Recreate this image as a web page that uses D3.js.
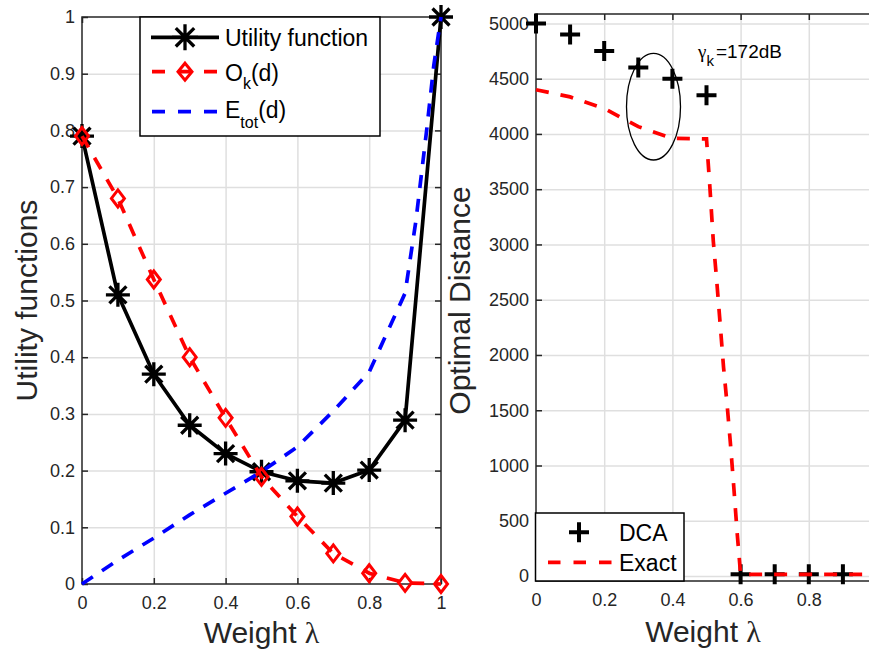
<!DOCTYPE html>
<html><head><meta charset="utf-8">
<script src="https://cdn.jsdelivr.net/npm/d3@7"></script>
<style>
body{margin:0;background:#fff}
svg{display:block}
text{font-family:"Liberation Sans",Arial,Helvetica,sans-serif}
</style>
</head><body>
<svg id="c" width="869" height="650"></svg>
<script>
// ---------- DATA ----------
const lambdaVals   = [0,0.1,0.2,0.3,0.4,0.5,0.6,0.7,0.8,0.9,1.0];
const utilityVals  = [0.79,0.51,0.37,0.28,0.23,0.198,0.182,0.178,0.201,0.289,1.0];
const okVals       = [0.79,0.68,0.537,0.40,0.293,0.189,0.119,0.054,0.019,0.002,0.0];
const etotLambda   = [0,0.1,0.2,0.3,0.4,0.5,0.6,0.7,0.8,0.9,0.93,0.96,0.98,1.0];
const etotVals     = [0,0.042,0.081,0.122,0.16,0.198,0.242,0.305,0.374,0.513,0.64,0.80,0.915,1.0];

const dcaLambda    = [0,0.1,0.2,0.3,0.4,0.5,0.6,0.7,0.8,0.9];
const dcaVals      = [5000,4900,4750,4600,4500,4350,15,15,15,15];
const exactLambda  = [0,0.1,0.2,0.3,0.4,0.5,0.51,0.52,0.53,0.54,0.55,0.56,0.57,0.58,0.59,0.6,0.7,0.8,0.9,1.0];
const exactVals    = [4400,4335,4230,4066,3960,3955,3515,3028,2670,2284,1888,1566,1205,806,387,15,15,15,15,15];

const leftXTicks   = [0,0.2,0.4,0.6,0.8,1];
const leftYTicks   = [0,0.1,0.2,0.3,0.4,0.5,0.6,0.7,0.8,0.9,1];
const rightXTicks  = [0,0.2,0.4,0.6,0.8];
const rightYTicks  = [0,500,1000,1500,2000,2500,3000,3500,4000,4500,5000];

const leftLegend   = ["Utility function","O_k(d)","E_tot(d)"];
const rightLegend  = ["DCA","Exact"];
const annotation   = {sym:"γ", sub:"k", rest:"=172dB"};

// ---------- SETUP ----------
const FONT = '"Liberation Sans",Arial,Helvetica,sans-serif';
const AX = "#262626", GRID = "#dfdfdf";
const svg = d3.select("#c");
svg.append("rect").attr("width",869).attr("height",650).attr("fill","#fff");

const L = {left:82, right:441, top:17, bottom:584};
const R = {left:536, right:877, top:14, bottom:581};
const xL = d3.scaleLinear().domain([0,1]).range([L.left,L.right]);
const yL = d3.scaleLinear().domain([0,1]).range([L.bottom,L.top]);
const xR = d3.scaleLinear().domain([0,1]).range([R.left,R.right]);
const yR = d3.scaleLinear().domain([-45,5085]).range([R.bottom,R.top]);

function drawGrid(xs, ys, xt, yt, b){
  const g = svg.append("g");
  g.append("g").attr("transform",`translate(0,${b.bottom})`)
    .call(d3.axisBottom(xs).tickValues(xt).tickSize(-(b.bottom-b.top)).tickFormat(""))
    .call(s=>{s.select(".domain").remove(); s.selectAll("line").attr("stroke",GRID).attr("stroke-width",1.5);});
  g.append("g").attr("transform",`translate(${b.left},0)`)
    .call(d3.axisLeft(ys).tickValues(yt).tickSize(-(b.right-b.left)).tickFormat(""))
    .call(s=>{s.select(".domain").remove(); s.selectAll("line").attr("stroke",GRID).attr("stroke-width",1.5);});
}
function drawAxes(xs, ys, xt, yt, b, xf, yf){
  const st = s=>{
    s.select(".domain").remove();
    s.attr("font-size",18).attr("font-family",FONT);
    s.selectAll("line").attr("stroke",AX).attr("stroke-width",1.5);
    s.selectAll("text").attr("fill",AX);
  };
  svg.append("g").attr("transform",`translate(0,${b.bottom})`)
    .call(d3.axisBottom(xs).tickValues(xt).tickSize(-6).tickPadding(12).tickFormat(xf)).call(st);
  svg.append("g").attr("transform",`translate(${b.left},0)`)
    .call(d3.axisLeft(ys).tickValues(yt).tickSize(-6).tickPadding(7).tickFormat(yf)).call(st);
  svg.append("g").attr("transform",`translate(0,${b.top})`)
    .call(d3.axisTop(xs).tickValues(xt).tickSize(-6).tickFormat("")).call(st);
  svg.append("g").attr("transform",`translate(${b.right},0)`)
    .call(d3.axisRight(ys).tickValues(yt).tickSize(-6).tickFormat("")).call(st);
  svg.append("rect").attr("x",b.left).attr("y",b.top).attr("width",b.right-b.left).attr("height",b.bottom-b.top)
    .attr("fill","none").attr("stroke",AX).attr("stroke-width",1.5);
}

const starPath = r => { const d=r*0.7071; return `M${-r},0L${r},0M0,${-r}L0,${r}M${-d},${-d}L${d},${d}M${-d},${d}L${d},${-d}`; };
const diamondPath = (w,h) => `M0,${-h}L${w},0L0,${h}L${-w},0Z`;
const plusPath = r => `M${-r},0L${r},0M0,${-r}L0,${r}`;

// ---------- LEFT PANEL ----------
drawGrid(xL, yL, [0.2,0.4,0.6,0.8], leftYTicks.slice(1,-1), L);
drawAxes(xL, yL, leftXTicks, leftYTicks, L, d3.format("~g"), d3.format("~g"));

const lineL = d3.line().x(d=>xL(d[0])).y(d=>yL(d[1]));
const utilData = lambdaVals.map((v,i)=>[v,utilityVals[i]]);
const okData   = lambdaVals.map((v,i)=>[v,okVals[i]]);
const etData   = etotLambda.map((v,i)=>[v,etotVals[i]]);

svg.append("path").datum(utilData).attr("d",lineL).attr("fill","none").attr("stroke","#000").attr("stroke-width",3.7).attr("stroke-linejoin","round");
svg.append("g").selectAll("path").data(utilData).join("path")
  .attr("transform",d=>`translate(${xL(d[0])},${yL(d[1])})`).attr("d",starPath(12))
  .attr("stroke","#000").attr("stroke-width",3.3).attr("fill","none");

svg.append("path").datum(okData).attr("d",lineL).attr("fill","none").attr("stroke","#ff0000").attr("stroke-width",3.7).attr("stroke-dasharray","13,12");
svg.append("g").selectAll("path").data(okData).join("path")
  .attr("transform",d=>`translate(${xL(d[0])},${yL(d[1])})`).attr("d",diamondPath(6.5,8.5))
  .attr("stroke","#ff0000").attr("stroke-width",3).attr("fill","none");

svg.append("path").datum(etData).attr("d",lineL).attr("fill","none").attr("stroke","#0000ff").attr("stroke-width",3.7).attr("stroke-dasharray","13,11");

// left labels
svg.append("text").attr("x",(L.left+L.right)/2).attr("y",643).attr("text-anchor","middle")
  .attr("font-size",30).attr("fill",AX).text("Weight ").append("tspan").attr("font-family",'"Liberation Serif",serif').text("λ");
svg.append("text").attr("transform",`translate(37,${(L.top+L.bottom)/2}) rotate(-90)`).attr("text-anchor","middle")
  .attr("font-size",30).attr("fill",AX).text("Utility functions");

// left legend
const lg = svg.append("g");
lg.append("rect").attr("x",140).attr("y",17).attr("width",240).attr("height",119).attr("fill","#fff").attr("stroke","#000").attr("stroke-width",1.5);
const legY = [37.3,71.7,111.7];
lg.append("line").attr("x1",151).attr("x2",219).attr("y1",legY[0]).attr("y2",legY[0]).attr("stroke","#000").attr("stroke-width",3.7);
lg.append("path").attr("transform",`translate(185,${legY[0]})`).attr("d",starPath(13)).attr("stroke","#000").attr("stroke-width",3.3).attr("fill","none");
lg.append("line").attr("x1",152).attr("x2",218).attr("y1",legY[1]).attr("y2",legY[1]).attr("stroke","#ff0000").attr("stroke-width",3.7).attr("stroke-dasharray","13,13");
lg.append("path").attr("transform",`translate(185,${legY[1]})`).attr("d",diamondPath(7,8.5)).attr("stroke","#ff0000").attr("stroke-width",3).attr("fill","none");
lg.append("line").attr("x1",152).attr("x2",218).attr("y1",legY[2]).attr("y2",legY[2]).attr("stroke","#0000ff").attr("stroke-width",3.7).attr("stroke-dasharray","13,13");
function subText(parent, x, y, label, fs, sfs, dy){
  const [main, rest] = label.split("_");
  const t = parent.append("text").attr("x",x).attr("y",y).attr("font-size",fs).attr("fill","#000");
  if(rest===undefined){ t.text(main); return t; }
  const m = rest.match(/^([a-z]+)(.*)$/);
  t.append("tspan").text(main);
  t.append("tspan").attr("dy",dy).attr("font-size",sfs).text(m[1]);
  t.append("tspan").attr("dy",-dy).text(m[2]);
  return t;
}
subText(lg,225,46,leftLegend[0],23,16,8);
subText(lg,225,81,leftLegend[1],23,16,7.5);
subText(lg,225,118.3,leftLegend[2],23,16,10);

// ---------- RIGHT PANEL ----------
drawGrid(xR, yR, [0.2,0.4,0.6,0.8,1], rightYTicks, R);
drawAxes(xR, yR, rightXTicks, rightYTicks, R, d3.format("~g"), d3.format("d"));

const lineR = d3.line().x(d=>xR(d[0])).y(d=>yR(d[1]));
const dcaData = dcaLambda.map((v,i)=>[v,dcaVals[i]]);
const exData  = exactLambda.map((v,i)=>[v,exactVals[i]]);
svg.append("g").selectAll("path").data(dcaData).join("path")
  .attr("transform",d=>`translate(${xR(d[0])},${yR(d[1])})`).attr("d",plusPath(10))
  .attr("stroke","#000").attr("stroke-width",4).attr("fill","none");
svg.append("path").datum(exData).attr("d",lineR).attr("fill","none").attr("stroke","#ff0000").attr("stroke-width",3.7).attr("stroke-dasharray","13,12");

// annotation
svg.append("ellipse").attr("cx",653.5).attr("cy",106.7).attr("rx",27).attr("ry",53.3)
  .attr("fill","none").attr("stroke","#000").attr("stroke-width",1.3);
const an = svg.append("text").attr("x",698).attr("y",58.3).attr("font-size",19).attr("fill","#000");
an.append("tspan").attr("font-family",'"Liberation Serif",serif').text(annotation.sym);
an.append("tspan").attr("dy",8).attr("font-size",15).text(annotation.sub);
an.append("tspan").attr("dy",-8).attr("dx",2).text(annotation.rest);

// right labels
svg.append("text").attr("x",703).attr("y",642).attr("text-anchor","middle")
  .attr("font-size",30).attr("fill",AX).text("Weight ").append("tspan").attr("font-family",'"Liberation Serif",serif').text("λ");
svg.append("text").attr("transform",`translate(470,${(R.top+R.bottom)/2+3}) rotate(-90)`).attr("text-anchor","middle")
  .attr("font-size",30).attr("fill",AX).text("Optimal Distance");

// right legend
const rg = svg.append("g");
rg.append("rect").attr("x",535.5).attr("y",513).attr("width",148.5).attr("height",68).attr("fill","#fff").attr("stroke","#000").attr("stroke-width",1.5);
rg.append("path").attr("transform","translate(579,532.3)").attr("d",plusPath(10)).attr("stroke","#000").attr("stroke-width",4).attr("fill","none");
rg.append("line").attr("x1",548).attr("x2",612).attr("y1",562.3).attr("y2",562.3).attr("stroke","#ff0000").attr("stroke-width",3.7).attr("stroke-dasharray","12.5,13");
rg.append("text").attr("x",619).attr("y",541).attr("font-size",23).attr("fill","#000").text(rightLegend[0]);
rg.append("text").attr("x",619).attr("y",570.5).attr("font-size",23).attr("fill","#000").text(rightLegend[1]);
</script>
</body></html>
